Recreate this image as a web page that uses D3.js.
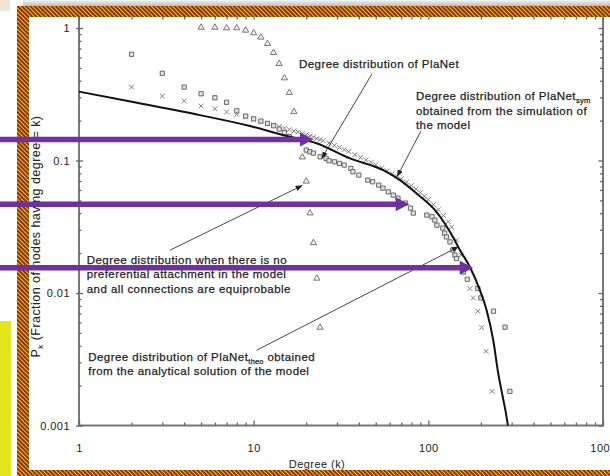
<!DOCTYPE html>
<html>
<head>
<meta charset="utf-8">
<script src="https://cdn.jsdelivr.net/npm/d3@7"></script>
<style>
  html, body { margin: 0; padding: 0; background: #fff; }
  svg { display: block; font-family: "Liberation Sans", Arial, Helvetica, sans-serif; }
</style>
</head>
<body>
<svg id="chart" width="610" height="476"></svg>
<script>
// ---------------- data ----------------
const xTickValues = [1, 10, 100, 1000];
const xTickLabels = ["1", "10", "100", "1000"];
const yTickValues = [1, 0.1, 0.01, 0.001];
const yTickLabels = ["1", "0.1", "0.01", "0.001"];

// no preferential attachment, all connections equiprobable (triangles)
const uniformK = [5, 6, 7, 8, 9, 10, 11, 12, 13, 14, 15, 16, 17, 19, 20, 21, 22, 23, 24];
const uniformP = [1.01, 1.01, 1.0, 1.0, 0.96, 0.917, 0.851, 0.761, 0.651, 0.538, 0.419, 0.325, 0.233,
                  0.106, 0.0697, 0.0401, 0.0239, 0.0129, 0.0055];

// PlaNet (squares)
const planetK = [2, 3, 4, 5, 6, 7, 8, 9, 10, 11, 12, 13, 14, 15, 16,
                 20, 21, 22, 24, 26, 27, 29, 31, 33, 36,
                 37, 40, 45, 48, 52, 55, 59, 63, 67, 74,
                 79, 82, 98, 105, 109, 112, 121, 124, 127, 133,
                 138, 142, 145, 159, 167, 192, 200, 236, 275, 293];
const planetP = [0.633, 0.455, 0.358, 0.319, 0.2975, 0.275, 0.237, 0.2164, 0.2065, 0.1984, 0.1906, 0.183, 0.1727, 0.1624, 0.1515,
                 0.1198, 0.1163, 0.1137, 0.1066, 0.1037, 0.0995, 0.0978, 0.0951, 0.0923, 0.0872,
                 0.0822, 0.0776, 0.0711, 0.0691, 0.0652, 0.0619, 0.058, 0.0548, 0.052, 0.0477,
                 0.0437, 0.0401, 0.0387, 0.0376, 0.0355, 0.0325, 0.0309, 0.0283, 0.0265, 0.0243,
                 0.0211, 0.0193, 0.0182, 0.0144, 0.0127, 0.0108, 0.00918, 0.00729, 0.00552, 0.00181];

// PlaNet_sym, simulation of the model (crosses)
const symK = [2, 3, 4, 5, 6, 7, 8, 9, 10, 11, 12, 13, 14, 15, 16, 17, 18, 19, 20, 21, 22, 23, 24, 25,
              27, 29, 31, 33, 35, 38, 41, 44, 47, 50,
              54, 58, 62, 66, 70, 75, 80, 85, 90, 95,
              100, 107, 114, 122, 130, 136,
              145, 154, 163, 173, 181, 192, 202, 214, 232];
const symP = [0.358, 0.3065, 0.281, 0.2575, 0.2457, 0.232, 0.2229,
              0.2128, 0.2037, 0.1967, 0.19, 0.1851, 0.1803, 0.1757, 0.1712, 0.1668, 0.1639, 0.1597, 0.1561,
              0.1529, 0.1502, 0.1464, 0.1438, 0.1413,
              0.1353, 0.13, 0.1252, 0.1209, 0.1167, 0.1108, 0.1055, 0.101, 0.0967, 0.0928,
              0.0881, 0.0836, 0.0796, 0.0762, 0.0728, 0.0687, 0.0646, 0.0608, 0.0572, 0.0538,
              0.0507, 0.0464, 0.0426, 0.0384, 0.0345, 0.0314,
              0.0251, 0.0193, 0.0154, 0.0108, 0.00918, 0.00729, 0.00549, 0.00363, 0.00181];

// PlaNet_theo, analytical solution (solid line)
const theoK = [1, 2.04, 4.93, 9.52, 15.45, 22.9, 35.6, 55.2, 68.8, 85.7, 111.6, 138.3, 151.7, 173,
               197.4, 215.6, 235.3, 251.4, 265.6, 276.3, 285.5];
const theoP = [0.331, 0.276, 0.220, 0.182, 0.153, 0.135, 0.1037, 0.0846, 0.0711, 0.0564, 0.0408, 0.0265, 0.0211, 0.0157,
               0.0105, 0.00741, 0.0044, 0.00247, 0.00169, 0.0013, 0.001];

// callout anchors in data units [k, p]
const calloutText = [
  { at: [18.17, 0.503], lines: [["Degree distribution of PlaNet"]] },
  { at: [84.9, 0.286], gap: 14.5, lines: [["Degree distribution of PlaNet", "sym"], ["obtained from the simulation of"], ["the model"]] },
  { at: [1.107, 0.01665], gap: 14.8, lines: [["Degree distribution when there is no"], ["preferential attachment in the model"], ["and all connections are equiprobable"]] },
  { at: [1.13, 0.00307], gap: 13.9, lines: [["Degree distribution of PlaNet", "theo", " obtained"], ["from the analytical solution of the model"]] }
];
const calloutLines = [
  { from: [47.5, 0.449], to: [24.6, 0.1043] },
  { from: [90.7, 0.1667], to: [66.5, 0.0762] },
  { from: [3.32, 0.02105], to: [18.9, 0.0646] },
  { from: [10.4, 0.0037], to: [148.3, 0.0223] }
];
// highlight arrows: level p, tip at degree k
const highlightP = [0.1438, 0.0467, 0.01553];
const highlightK = [22.0, 77.7, 180.7];

// ---------------- drawing ----------------
const svg = d3.select("#chart");
const x = d3.scaleLog().domain([1, 1000]).range([79, 603]);
const y = d3.scaleLog().domain([0.001, 1]).range([425.5, 28]);
const plotTop = 16;

const defs = svg.append("defs");
const hatch = defs.append("pattern")
  .attr("id", "hatch").attr("patternUnits", "userSpaceOnUse")
  .attr("width", 3).attr("height", 3)
  .attr("patternTransform", "rotate(-45)");
hatch.append("rect").attr("width", 3).attr("height", 3).attr("fill", "#86290a");
hatch.append("rect").attr("width", 1.1).attr("height", 3).attr("fill", "#f6c50f");

const shade = defs.append("linearGradient").attr("id", "shade")
  .attr("x1", 0).attr("y1", 0).attr("x2", 0).attr("y2", 1);
shade.append("stop").attr("offset", "0%").attr("stop-color", "#f4f4f4");
shade.append("stop").attr("offset", "100%").attr("stop-color", "#bdbdbd");

defs.append("marker").attr("id", "tip")
  .attr("viewBox", "0 0 10 10").attr("refX", 9).attr("refY", 5)
  .attr("markerWidth", 7).attr("markerHeight", 7)
  .attr("markerUnits", "userSpaceOnUse")
  .attr("orient", "auto")
  .append("path").attr("d", "M0,1 L10,5 L0,9 Z").attr("fill", "#222");

// page background and slide decorations
svg.append("rect").attr("width", 610).attr("height", 476).attr("fill", "#fff");
svg.append("rect").attr("x", 0).attr("y", 0).attr("width", 10).attr("height", 11).attr("fill", "#efe7d4");
svg.append("rect").attr("x", 23).attr("y", 0).attr("width", 587).attr("height", 6).attr("fill", "url(#shade)");
svg.append("rect").attr("x", 0).attr("y", 321).attr("width", 11).attr("height", 155).attr("fill", "#e4e61a");

// plot box
const g = svg.append("g");
g.append("rect")
  .attr("x", x.range()[0]).attr("y", plotTop)
  .attr("width", x.range()[1] - x.range()[0]).attr("height", y.range()[0] - plotTop)
  .attr("fill", "none").attr("stroke", "#777").attr("stroke-width", 2);

const minorX = [];
[1, 10, 100].forEach(d => { for (let m = 2; m <= 9; m++) minorX.push(d * m); });
const minorY = [];
[0.001, 0.01, 0.1].forEach(d => { for (let m = 2; m <= 9; m++) minorY.push(d * m); });

function styleAxis(sel) {
  sel.select(".domain").remove();
  sel.selectAll(".tick line").attr("stroke", "#666").attr("stroke-width", 1.3);
  sel.selectAll(".tick text").attr("fill", "#222").attr("font-size", 11).attr("letter-spacing", 0.45);
}

// bottom
g.append("g").attr("transform", `translate(0,${y.range()[0]})`)
  .call(d3.axisBottom(x).tickValues(xTickValues).tickFormat((d, i) => xTickLabels[i])
        .tickSizeInner(-5).tickSizeOuter(0).tickPadding(18.5))
  .call(styleAxis);
g.append("g").attr("transform", `translate(0,${y.range()[0]})`)
  .call(d3.axisBottom(x).tickValues(minorX).tickFormat("").tickSizeInner(-3).tickSizeOuter(0))
  .call(styleAxis);
// top
g.append("g").attr("transform", `translate(0,${plotTop})`)
  .call(d3.axisTop(x).tickValues(minorX.concat(xTickValues)).tickFormat("").tickSizeInner(-3.5).tickSizeOuter(0))
  .call(styleAxis);
// left
g.append("g").attr("transform", `translate(${x.range()[0]},0)`)
  .call(d3.axisLeft(y).tickValues(yTickValues).tickFormat((d, i) => yTickLabels[i])
        .tickSizeInner(3).tickSizeOuter(0).tickPadding(6))
  .call(styleAxis);
g.append("g").attr("transform", `translate(${x.range()[0]},0)`)
  .call(d3.axisLeft(y).tickValues(yTickValues).tickFormat("").tickSizeInner(-4).tickSizeOuter(0))
  .call(styleAxis);
g.append("g").attr("transform", `translate(${x.range()[0]},0)`)
  .call(d3.axisLeft(y).tickValues(minorY).tickFormat("").tickSizeInner(-2.5).tickSizeOuter(0))
  .call(styleAxis);
// right
g.append("g").attr("transform", `translate(${x.range()[1]},0)`)
  .call(d3.axisRight(y).tickValues(yTickValues).tickFormat("").tickSizeInner(-4.5).tickSizeOuter(0))
  .call(styleAxis);
g.append("g").attr("transform", `translate(${x.range()[1]},0)`)
  .call(d3.axisRight(y).tickValues(minorY).tickFormat("").tickSizeInner(-3).tickSizeOuter(0))
  .call(styleAxis);

// axis titles
g.append("text")
  .attr("x", 317).attr("y", 467.5).attr("text-anchor", "middle")
  .attr("font-size", 11).attr("letter-spacing", 0.45).attr("fill", "#222")
  .text("Degree (k)");
const yt = g.append("text")
  .attr("transform", "translate(40,236.5) rotate(-90)")
  .attr("text-anchor", "middle")
  .attr("font-size", 12.5).attr("letter-spacing", 0.45).attr("fill", "#222");
yt.append("tspan").text("P");
yt.append("tspan").attr("font-size", 8).attr("dy", 3).text("k");
yt.append("tspan").attr("dy", -3).text(" (Fraction of nodes having degree = k)");

// series
const zip = (ks, ps) => ks.map((k, i) => ({ k, p: ps[i] }));

const marks = g.append("g");
marks.selectAll("path.tri").data(zip(uniformK, uniformP)).join("path")
  .attr("class", "tri")
  .attr("transform", d => `translate(${x(d.k)},${y(d.p)})`)
  .attr("d", d3.symbol(d3.symbolTriangle, 17))
  .attr("fill", "#f0f0f0").attr("stroke", "#6a6a6a").attr("stroke-width", 0.9);

marks.selectAll("path.cross").data(zip(symK, symP)).join("path")
  .attr("class", "cross")
  .attr("transform", d => `translate(${x(d.k)},${y(d.p)})`)
  .attr("d", "M-2.4,-2.4L2.4,2.4M-2.4,2.4L2.4,-2.4")
  .attr("fill", "none").attr("stroke", "#808080").attr("stroke-width", 1);

marks.selectAll("path.sq").data(zip(planetK, planetP)).join("path")
  .attr("class", "sq")
  .attr("transform", d => `translate(${x(d.k)},${y(d.p)})`)
  .attr("d", d3.symbol(d3.symbolSquare, 18))
  .attr("fill", "#e2e2e2").attr("stroke", "#5c5c5c").attr("stroke-width", 0.9);

const line = d3.line().x(d => x(d.k)).y(d => y(d.p)).curve(d3.curveMonotoneX);
g.append("path").datum(zip(theoK, theoP))
  .attr("d", line).attr("fill", "none").attr("stroke", "#111").attr("stroke-width", 2);

// callouts
const notes = g.append("g").attr("fill", "#1e1e1e").attr("stroke", "#1e1e1e").attr("stroke-width", 0.25)
  .attr("font-size", 11.5).attr("letter-spacing", 0.45);
calloutText.forEach(c => {
  c.lines.forEach((parts, li) => {
    const t = notes.append("text").attr("x", x(c.at[0])).attr("y", y(c.at[1]) + li * (c.gap || 0));
    parts.forEach((s, pi) => {
      if (pi === 1) t.append("tspan").attr("font-size", 7.5).attr("dy", 3).attr("letter-spacing", 0.2).text(s);
      else if (pi === 2) t.append("tspan").attr("dy", -3).text(s);
      else t.append("tspan").text(s);
    });
  });
});
g.append("g").selectAll("line").data(calloutLines).join("line")
  .attr("x1", d => x(d.from[0])).attr("y1", d => y(d.from[1]))
  .attr("x2", d => x(d.to[0])).attr("y2", d => y(d.to[1]))
  .attr("stroke", "#333").attr("stroke-width", 0.9)
  .attr("marker-end", "url(#tip)");

// slide frame
const frame = svg.append("g").attr("fill", "url(#hatch)");
frame.append("rect").attr("x", 17).attr("y", 6).attr("width", 12).attr("height", 470);
frame.append("rect").attr("x", 17).attr("y", 6).attr("width", 593).attr("height", 11);
frame.append("rect").attr("x", 17).attr("y", 470).attr("width", 593).attr("height", 6);

// highlight arrows
const hl = svg.append("g").attr("fill", "#7030a0").attr("stroke", "#7030a0");
highlightP.forEach((p, i) => {
  const yy = y(p), tx = x(highlightK[i]);
  hl.append("line").attr("x1", 0).attr("y1", yy).attr("x2", tx - 12).attr("y2", yy)
    .attr("stroke-width", 5.5);
  hl.append("path").attr("stroke", "none")
    .attr("d", `M${tx},${yy}L${tx - 13.5},${yy - 7}L${tx - 13.5},${yy + 7}Z`);
});
</script>
</body>
</html>
